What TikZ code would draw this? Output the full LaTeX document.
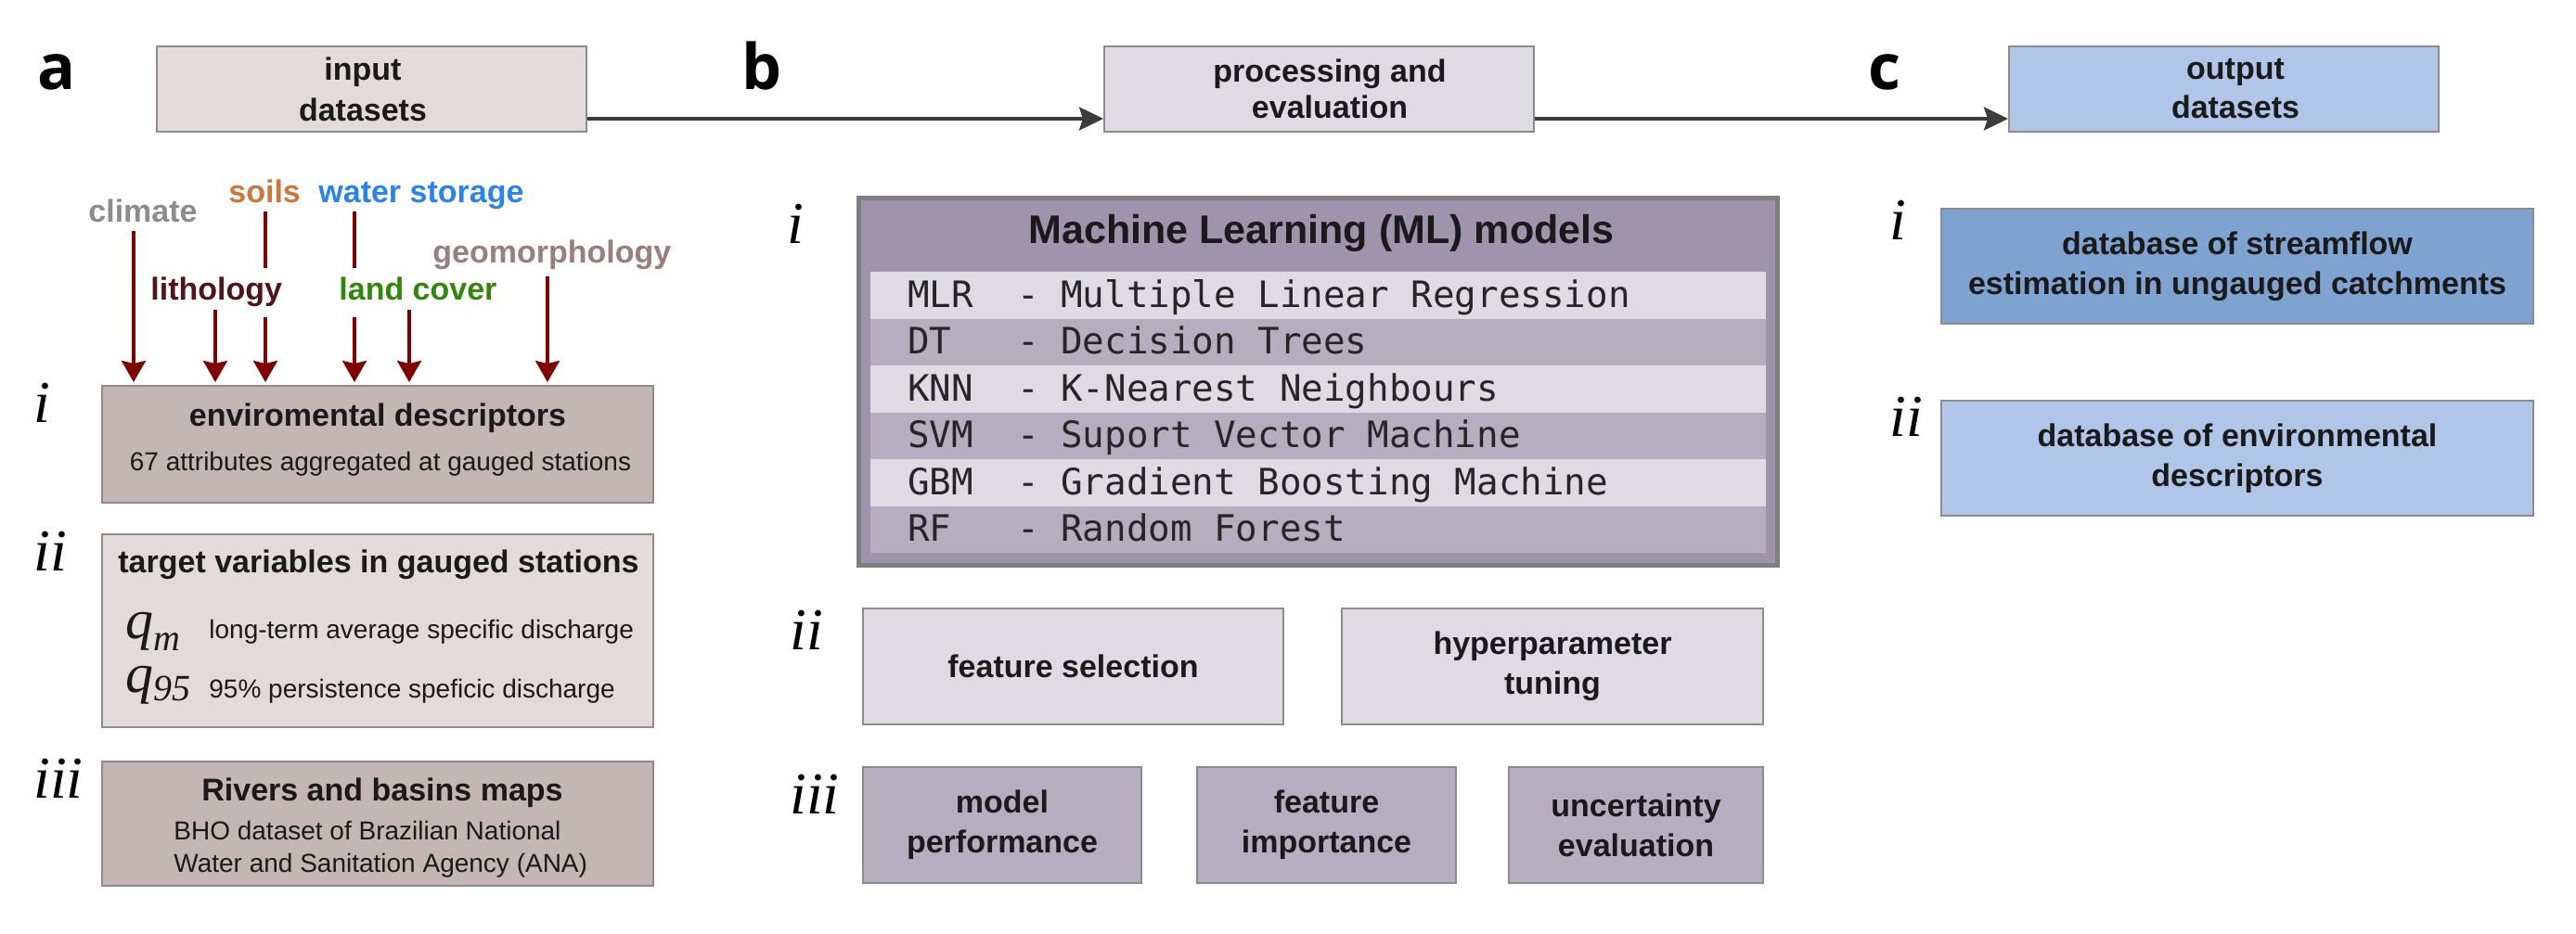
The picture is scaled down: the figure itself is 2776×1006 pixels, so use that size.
\documentclass[tikz,border=0pt]{standalone}
\usepackage{fontspec}
\setmainfont{Liberation Sans}
\setmonofont{DejaVu Sans Mono}
\newfontfamily\panelfont{Open Sans}
\newfontfamily\romfont{Liberation Serif}
\usetikzlibrary{arrows.meta}
\newcommand{\mgap}{\hspace*{\fontcharwd\font`M}}
\definecolor{txt}{HTML}{1A1A1A}
\definecolor{monotxt}{HTML}{262626}
\definecolor{boxline}{HTML}{8C8C8C}
\definecolor{inA}{HTML}{E2DADB}
\definecolor{darkA}{HTML}{C5B6B6}
\definecolor{lightB}{HTML}{DEDBE3}
\definecolor{midB}{HTML}{B5AEC0}
\definecolor{mlfill}{HTML}{9E94AB}
\definecolor{mlline}{HTML}{7F7F7F}
\definecolor{lightC}{HTML}{AFC6E8}
\definecolor{darkC}{HTML}{7FA3D1}
\definecolor{arrred}{HTML}{800000}
\definecolor{arrgray}{HTML}{3C3C3C}
\definecolor{cClim}{HTML}{8C8C8C}
\definecolor{cSoil}{HTML}{CC783C}
\definecolor{cWater}{HTML}{2882F0}
\definecolor{cLith}{HTML}{501419}
\definecolor{cLand}{HTML}{32870A}
\definecolor{cGeo}{HTML}{9B7D7D}
\tikzset{
  box/.style={draw=boxline, line width=1pt, inner sep=0pt, align=center, text=txt,
    font=\bfseries\fontsize{17}{21.5}\selectfont},
  boxtext/.style={inner sep=0pt, align=center, text=txt},
  panel/.style={anchor=base west, inner sep=0pt, text=black, font=\panelfont\bfseries\fontsize{34}{34}\selectfont},
  roman/.style={anchor=base west, inner sep=0pt, text=black, font=\romfont\itshape\fontsize{32}{32}\selectfont},
  source/.style={anchor=base west, inner sep=0pt, font=\bfseries\fontsize{17}{17}\selectfont},
  small/.style={inner sep=0pt, text=txt, font=\fontsize{14}{14}\selectfont},
  title/.style={inner sep=0pt, text=txt, font=\bfseries\fontsize{17}{17}\selectfont},
  mlrow/.style={minimum width=482.5pt, minimum height=25.25pt, inner ysep=0pt, inner xsep=20pt,
    text width=442.5pt, align=left, text height=16pt, text depth=3pt, text=monotxt,
    font=\ttfamily\fontsize{19.6}{19.6}\selectfont},
  redline/.style={draw=arrred, line width=1.65pt},
  redarr/.style={redline, shorten >=1.5pt, -{Stealth[length=11.5pt, width=13pt, inset=1.5pt]}},
  toparr/.style={draw=arrgray, line width=1.75pt, -{Stealth[length=13pt, width=12.5pt, inset=2pt]}}
}
\begin{document}
\begin{tikzpicture}[x=0.5pt, y=-0.5pt]
\useasboundingbox (0,0) rectangle (2776,1006);

% panel letters
\node[panel] (pa) at (40,97) {a};
\node[panel] (pb) at (799,97) {b};
\node[panel] (pc) at (2013,97) {c};

% top row
\node[box, fill=inA, minimum width=231.5pt, minimum height=46pt] (input) at (400.5,96) {};
\node[boxtext, font=\bfseries\fontsize{17}{22}\selectfont] (inputt) at (391,96) {input\\datasets};
\node[box, fill=lightB, minimum width=231.5pt, minimum height=46pt] (proc) at (1421.5,96) {};
\node[boxtext, font=\bfseries\fontsize{17}{19.25}\selectfont] (proct) at (1433,96) {processing and\\evaluation};
\node[box, fill=lightC, minimum width=231.5pt, minimum height=46pt] (output) at (2396.5,96) {};
\node[boxtext, font=\bfseries\fontsize{17}{21}\selectfont] (outputt) at (2409,96) {output\\datasets};
\draw[toparr] ([yshift=-16pt]input.east) -- ([yshift=-16pt]proc.west);
\draw[toparr] ([yshift=-16pt]proc.east) -- ([yshift=-16pt]output.west);

% ---------- column a ----------
\node[box, fill=darkA, minimum width=297pt, minimum height=63pt] (env) at (407,479) {};
\node[title, anchor=base] (envt) at (407,459) {enviromental descriptors};
\node[small, anchor=base] (envs) at (410,507) {67 attributes aggregated at gauged stations};

\node[box, fill=inA, minimum width=297pt, minimum height=104pt] (target) at (407,680) {};
\node[title, anchor=base] (targt) at (408,617) {target variables in gauged stations};
\node[anchor=base west, inner sep=0pt, text=txt, font=\romfont\itshape\fontsize{30}{30}\selectfont] (qm) at (135,688)
  {q\raisebox{-6.5pt}{\fontsize{20}{20}\selectfont m}};
\node[anchor=base west, inner sep=0pt, text=txt, font=\romfont\itshape\fontsize{30}{30}\selectfont] (q95) at (135,746)
  {q\raisebox{-4.5pt}{\fontsize{20}{20}\selectfont 95}};
\node[small, anchor=base west] (qmt) at (225,688) {long-term average specific discharge};
\node[small, anchor=base west] (q95t) at (225,752) {95\% persistence speficic discharge};

\node[box, fill=darkA, minimum width=297pt, minimum height=67pt] (rivers) at (407,888) {};
\node[title, anchor=base] (rivt) at (412,863) {Rivers and basins maps};
\node[small, anchor=base west] (riv1) at (187,905) {BHO dataset of Brazilian National};
\node[small, anchor=base west] (riv2) at (187,940) {Water and Sanitation Agency (ANA)};

\node[roman] (ai) at (36,455) {i};
\node[roman] (aii) at (36,615) {ii};
\node[roman] (aiii) at (36,860) {iii};

% sources and arrows
\node[source, text=cClim] (clim) at (95,239) {climate};
\node[source, text=cSoil] (soil) at (246,218) {soils};
\node[source, text=cWater] (water) at (343,218) {water storage};
\node[source, text=cGeo] (geo) at (466,283) {geomorphology};
\node[source, text=cLith] (lith) at (162,323) {lithology};
\node[source, text=cLand] (land) at (365,323) {land cover};

\coordinate (clA) at (144,249);
\coordinate (liA) at (232,334);
\coordinate (soA) at (286,228);
\coordinate (soB) at (286,289);
\coordinate (soC) at (286,342);
\coordinate (waA) at (382,228);
\coordinate (waB) at (382,289);
\coordinate (waC) at (382,342);
\coordinate (laA) at (441,334);
\coordinate (geA) at (590,298);
\draw[redarr] (clA) -- (clA |- env.north);
\draw[redarr] (liA) -- (liA |- env.north);
\draw[redline] (soA) -- (soB);
\draw[redarr] (soC) -- (soC |- env.north);
\draw[redline] (waA) -- (waB);
\draw[redarr] (waC) -- (waC |- env.north);
\draw[redarr] (laA) -- (laA |- env.north);
\draw[redarr] (geA) -- (geA |- env.north);

% ---------- column b ----------
\node[draw=mlline, line width=2.5pt, fill=mlfill, minimum width=495pt, minimum height=198pt, inner sep=0pt] (ml) at (1420.5,411) {};
\node[inner sep=0pt, anchor=base, text=txt, font=\bfseries\fontsize{21.5}{21.5}\selectfont] (mlt) at (1424,262) {Machine Learning (ML) models};
\node[mlrow, fill=lightB] (r1) at (1420.5,318.25) {MLR\mgap\mgap-\mgap Multiple\mgap Linear\mgap Regression};
\node[mlrow, fill=midB]   (r2) at (1420.5,368.75) {DT\mgap\mgap\mgap-\mgap Decision\mgap Trees};
\node[mlrow, fill=lightB] (r3) at (1420.5,419.25) {KNN\mgap\mgap-\mgap K-Nearest\mgap Neighbours};
\node[mlrow, fill=midB]   (r4) at (1420.5,469.75) {SVM\mgap\mgap-\mgap Suport\mgap Vector\mgap Machine};
\node[mlrow, fill=lightB] (r5) at (1420.5,520.25) {GBM\mgap\mgap-\mgap Gradient\mgap Boosting\mgap Machine};
\node[mlrow, fill=midB]   (r6) at (1420.5,570.75) {RF\mgap\mgap\mgap-\mgap Random\mgap Forest};

\node[box, fill=lightB, minimum width=226.5pt, minimum height=62.5pt] (fsel) at (1156.5,718.5) {feature selection};
\node[box, fill=lightB, minimum width=227pt, minimum height=62.5pt] (hyper) at (1673,718.5) {hyperparameter\\tuning};
\node[box, fill=midB, minimum width=150pt, minimum height=62.5pt] (mperf) at (1080,889.5) {model\\performance};
\node[box, fill=midB, minimum width=139.5pt, minimum height=62.5pt] (fimp) at (1429.5,889.5) {feature\\importance};
\node[box, fill=midB, minimum width=137pt, minimum height=62.5pt] (unc) at (1763,889.5) {uncertainty\\evaluation};

\node[roman] (bi) at (848,262) {i};
\node[roman] (bii) at (851,700) {ii};
\node[roman] (biii) at (851,877) {iii};

% ---------- column c ----------
\node[box, fill=darkC, minimum width=319pt, minimum height=62pt] (stream) at (2411,287) {database of streamflow\\estimation in ungauged catchments};
\node[box, fill=lightC, minimum width=319pt, minimum height=62pt] (envdb) at (2411,494) {database of environmental\\descriptors};
\node[roman] (ci) at (2036,258) {i};
\node[roman] (cii) at (2036,470) {ii};
\end{tikzpicture}
\end{document}
